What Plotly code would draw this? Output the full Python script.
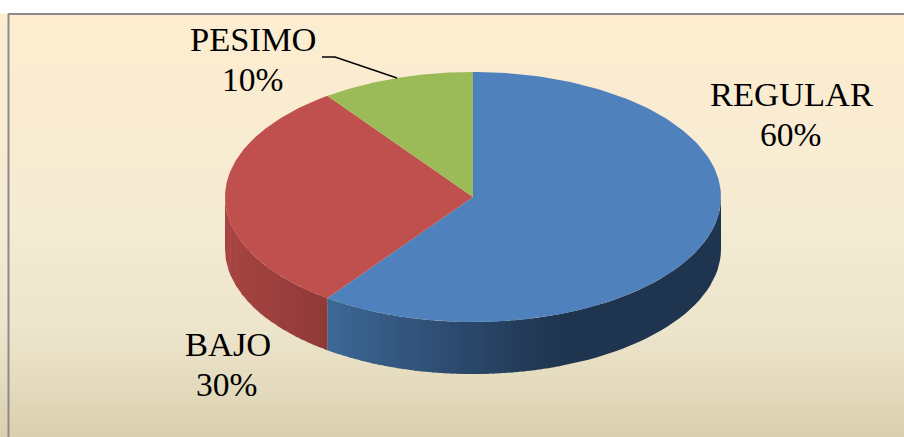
import numpy as np
import plotly.graph_objects as go

# Data
labels = ["REGULAR", "BAJO", "PESIMO"]
values = [60, 30, 10]

# Pie geometry in page pixels
CX, CY, RX, RY = 473, 197, 248, 125
DEPTH = 52

FACE_COLORS = ["#4F81BD", "#C0504D", "#9BBB59"]
# wall shading as (x pixel, rgb) stops, per slice
WALL_STOPS = {
    0: [(328, (62, 104, 150)), (452, (45, 75, 112)), (565, (31, 52, 78)), (721, (31, 52, 78))],
    1: [(225, (169, 69, 67)), (328, (143, 58, 56))],
}
BAND = 6  # colour steps on the walls, the reference is banded too
BG_STOPS = [
    (0.0, "#FEEDD0"), (0.5, "#F4EBD3"), (0.75, "#ECE4CB"), (0.88, "#E4DABD"), (1.0, "#DAD0AE"),
]

# centres of the name line and of the percent line
NAME_POS = {"REGULAR": (791, 94), "BAJO": (228, 344), "PESIMO": (253, 39)}
PCT_POS = {"REGULAR": (790, 134), "BAJO": (226.5, 384), "PESIMO": (252.5, 79)}
LEADER_X = [322, 335, 397]
LEADER_Y = [57, 57, 78]


def ellipse(theta, dy=0):
    # theta in degrees, clockwise from the top of the pie
    t = np.radians(theta)
    return CX + RX * np.sin(t), CY - RY * np.cos(t) + dy


def wall_color(i, x):
    stops = WALL_STOPS[i]
    xs = [s[0] for s in stops]
    rgb = [np.interp(x, xs, [s[1][c] for s in stops]) for c in range(3)]
    return "rgb(%d,%d,%d)" % tuple(rgb)


def wall_bands(i, start, end):
    # merge neighbouring angles that land on the same shade
    th = np.arange(start, end + 0.25, 0.25)
    x, _ = ellipse(th)
    shades = [wall_color(i, round(v / BAND) * BAND) for v in x]
    bands, first = [], 0
    for k in range(1, len(th)):
        if shades[k] != shades[first] or k == len(th) - 1:
            bands.append((th[first], th[k], shades[first]))
            first = k
    return bands


fig = go.Figure()

# background gradient
rows = np.arange(14, 438)
fig.add_trace(go.Heatmap(
    x=[8, 904], y=rows, z=[[r, r] for r in rows],
    zmin=14, zmax=437, colorscale=[[p, c] for p, c in BG_STOPS],
    showscale=False, hoverinfo="skip",
))

# slice angles from the values
edges = np.cumsum([0] + values) / sum(values) * 360

# side walls, only the front half of the pie shows
for i in range(len(values)):
    start, end = max(edges[i], 90), min(edges[i + 1], 270)
    if start >= end:
        continue
    for a, b, shade in wall_bands(i, start, end):
        th = np.linspace(a, min(b + 0.5, end), 30)
        x_top, y_top = ellipse(th)
        x_bot, y_bot = ellipse(th[::-1], DEPTH)
        fig.add_trace(go.Scatter(
            x=np.concatenate([x_top, x_bot]), y=np.concatenate([y_top, y_bot]),
            mode="lines", fill="toself", line=dict(width=0),
            fillcolor=shade, hoverinfo="skip",
        ))

# top faces
for i in range(len(values)):
    th = np.linspace(edges[i], edges[i + 1], 200)
    x_arc, y_arc = ellipse(th)
    fig.add_trace(go.Scatter(
        x=np.concatenate([[CX], x_arc, [CX]]), y=np.concatenate([[CY], y_arc, [CY]]),
        mode="lines", fill="toself", line=dict(width=0),
        fillcolor=FACE_COLORS[i], name=labels[i], hoverinfo="name",
    ))

# leader line for PESIMO
fig.add_trace(go.Scatter(
    x=LEADER_X, y=LEADER_Y, mode="lines",
    line=dict(color="#000000", width=1.5), hoverinfo="skip",
))

for name, val in zip(labels, values):
    fig.add_annotation(
        x=NAME_POS[name][0], y=NAME_POS[name][1], text=name, showarrow=False,
        xanchor="center", yanchor="middle",
        font=dict(family="Liberation Serif", size=34.5, color="#000000"),
    )
    fig.add_annotation(
        x=PCT_POS[name][0], y=PCT_POS[name][1], text=f"{val}%", showarrow=False,
        xanchor="center", yanchor="middle",
        font=dict(family="Liberation Serif", size=33.5, color="#000000"),
    )

# chart frame, runs off the right and bottom of the page
fig.add_shape(type="line", x0=8.5, x1=8.5, y0=14, y1=437, line=dict(color="#8C8C8C", width=2))
fig.add_shape(type="line", x0=8, x1=904, y0=14, y1=14, line=dict(color="#8C8C8C", width=2))

fig.update_layout(
    width=904, height=437,
    margin=dict(l=0, r=0, t=0, b=0),
    paper_bgcolor="#FFFFFF", plot_bgcolor="#FFFFFF",
    showlegend=False,
    xaxis=dict(range=[0, 904], visible=False, fixedrange=True),
    yaxis=dict(range=[437, 0], visible=False, fixedrange=True),
)

fig.write_html("out.html", config=dict(displayModeBar=False),
               post_script="document.body.style.margin='0';document.body.style.overflow='hidden';")
